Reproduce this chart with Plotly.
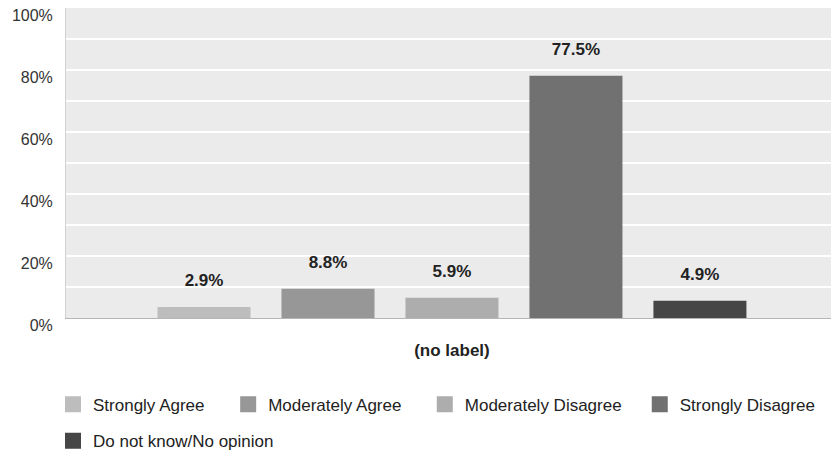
import plotly.graph_objects as go

# Survey responses, share of respondents (%)
categories = ["(no label)"]
responses = [
    "Strongly Agree",
    "Moderately Agree",
    "Moderately Disagree",
    "Strongly Disagree",
    "Do not know/No opinion",
]
shares = [2.9, 8.8, 5.9, 77.5, 4.9]
colors = ["#bdbdbd", "#979797", "#adadad", "#717171", "#464646"]

y_ticks = [0, 20, 40, 60, 80, 100]
y_tick_labels = ["0%", "20%", "40%", "60%", "80%", "100%"]

FONT = "Liberation Sans, Arial, sans-serif"
GAP = 0.197

# one legend box per entry: (x, y) in paper coordinates
legend_slots = [
    (-0.017, -0.222),
    (0.212, -0.222),
    (0.469, -0.222),
    (0.750, -0.222),
    (-0.017, -0.339),
]
legend_ids = ["legend"] + [f"legend{i}" for i in range(2, len(responses) + 1)]

fig = go.Figure()
for name, val, col, lg in zip(responses, shares, colors, legend_ids):
    fig.add_trace(go.Bar(
        x=categories,
        y=[val],
        name=name,
        marker=dict(color=col, line=dict(color=col, width=4)),
        legend=lg,
        hovertemplate="%{y:.1f}%<extra>" + name + "</extra>",
    ))

# value labels, grouped so each sits centred over its bar
for name, val in zip(responses, shares):
    fig.add_trace(go.Scatter(
        x=categories,
        y=[val],
        mode="markers+text",
        marker=dict(size=28, opacity=0),
        text=[f"<b>{val:.1f}%</b>"],
        textposition="top center",
        textfont=dict(family=FONT, size=17, color="#222222"),
        cliponaxis=False,
        showlegend=False,
        hoverinfo="skip",
    ))

legend_common = dict(
    orientation="h",
    xanchor="left",
    yanchor="top",
    font=dict(family=FONT, size=17, color="#222222"),
    bgcolor="rgba(0,0,0,0)",
)
legend_layout = {
    lg: dict(x=sx, y=sy, **legend_common)
    for lg, (sx, sy) in zip(legend_ids, legend_slots)
}

fig.update_layout(
    width=831,
    height=453,
    margin=dict(l=66, r=0, t=8, b=135, autoexpand=False),
    paper_bgcolor="white",
    plot_bgcolor="#ebebeb",
    barmode="group",
    bargap=GAP,
    bargroupgap=0.282,
    scattermode="group",
    scattergap=GAP,
    font=dict(family=FONT, size=16, color="#333333"),
    showlegend=True,
    **legend_layout,
)

fig.update_xaxes(
    type="category",
    range=[-0.5, 0.491],
    showgrid=False,
    showline=True,
    linecolor="#b5b5b5",
    linewidth=1,
    ticks="",
    ticklabelstandoff=17,
    tickfont=dict(family=FONT, size=17, color="#222222", weight="bold"),
)

fig.update_yaxes(
    range=[0, 100],
    tickvals=y_ticks,
    ticktext=y_tick_labels,
    showgrid=True,
    gridcolor="white",
    gridwidth=1.5,
    minor=dict(dtick=10, showgrid=True, gridcolor="white", gridwidth=1.5),
    showline=True,
    linecolor="#d0d0d0",
    linewidth=1,
    zeroline=False,
    ticks="",
    ticklabelstandoff=9,
    ticklabelshift=7,
    tickfont=dict(family=FONT, size=16, color="#333333"),
)

fig.write_html("out.html")
